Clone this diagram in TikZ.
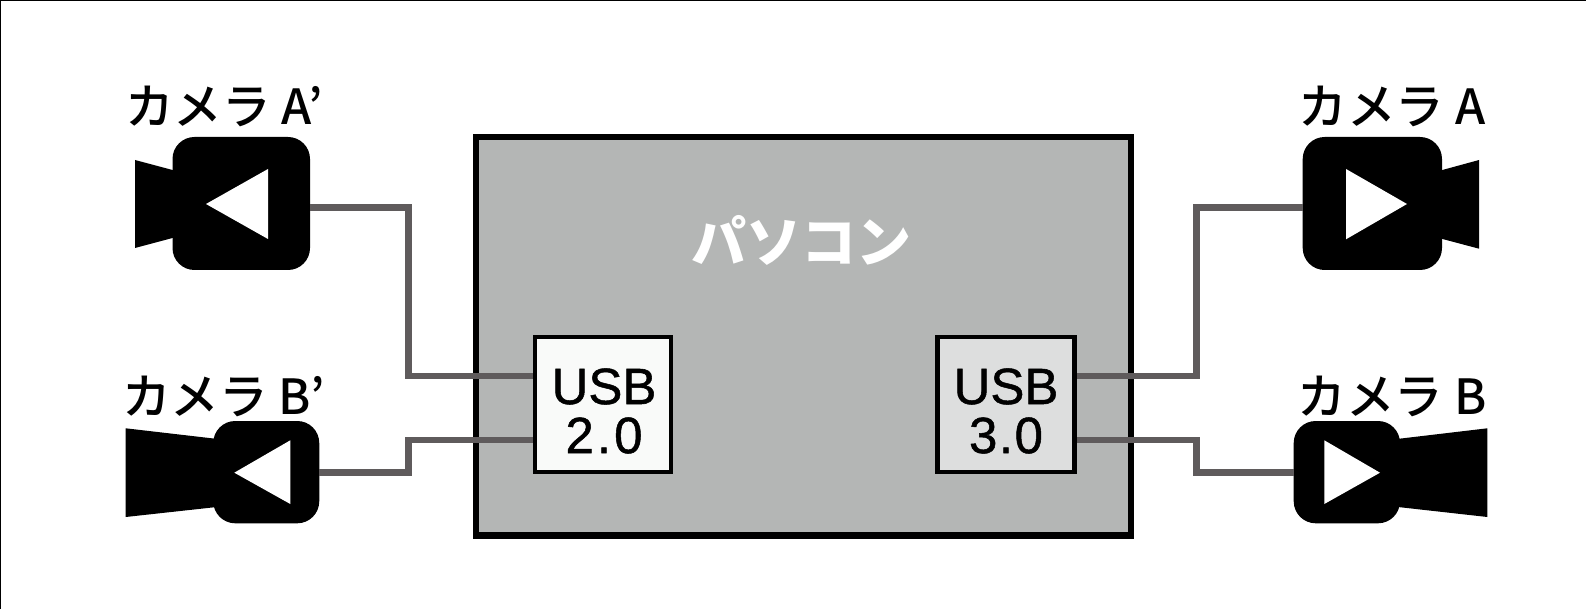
\documentclass[tikz,border=0pt]{standalone}
\usepackage{fontspec}
\setmainfont{Liberation Sans}
\newfontfamily\usbfont[FakeBold=1]{Liberation Sans}
\newfontfamily\pcfont{Noto Sans CJK JP Black}
\newfontfamily\camfont{Noto Sans CJK JP Medium}
\definecolor{pcgray}{HTML}{B4B6B5}
\definecolor{wiregray}{HTML}{5F5B5C}
\tikzset{
	pcbox/.style={rectangle, draw, fill=pcgray, line width=6.5pt, minimum width=655pt, minimum height=398.5pt, inner sep=0pt},
	usbbox/.style={rectangle, draw, line width=4.5pt, minimum height=135pt, inner sep=0pt},
	usbtext/.style={inner sep=0pt, align=center, font=\fontsize{51}{49}\usbfont},
	cambody/.style={rectangle, rounded corners=22pt, fill=black, minimum height=133pt, inner sep=0pt},
	camlabel/.style={inner sep=0pt, font=\fontsize{48.5}{48.5}\camfont},
	wire/.style={draw=wiregray, line width=6.8pt},
	lens/.style={fill=black},
	play/.style={fill=white},
}
\begin{document}
\begin{tikzpicture}[x=1pt,y=-1pt]
	\useasboundingbox (0,0) rectangle (1586,609);
	\draw[line width=1.6pt] (0,609) -- (0,0) -- (1586,0);

	\node (pc)			at (803.5,336.25) [pcbox] {};
	\node (pclabel)		at (801,240) [inner sep=0pt, text=white, font=\fontsize{55}{55}\pcfont] {パソコン};
	\node (usb20)		at (603,404.5) [usbbox, fill=white!75!pcgray!30!white, minimum width=136pt] {};
	\node (usb30)		at (1006,404.5) [usbbox, fill=white!55!pcgray, minimum width=137pt] {};
	\node (usb20text)	at (604,411) [usbtext] {USB\\{\addfontfeature{LetterSpace=6}2.0}};
	\node (usb30text)	at (1006,411) [usbtext] {USB\\{\addfontfeature{LetterSpace=3}3.0}};

	\node (camAp)		at (241.25,203.5) [cambody, minimum width=137.5pt] {};
	\node (camBp)		at (266.25,472.15) [cambody, minimum width=106pt, minimum height=102.3pt] {};
	\node (camA)		at (1372.35,203.5) [cambody, minimum width=139.3pt] {};
	\node (camB)		at (1346.85,472.15) [cambody, minimum width=106.3pt, minimum height=102.3pt] {};

	\node (labelAp)		at (224,106) [camlabel] {カメラ A’};
	\node (labelBp)		at (223.5,396) [camlabel] {カメラ B’};
	\node (labelA)		at (1392,106) [camlabel] {カメラ A};
	\node (labelB)		at (1392,396) [camlabel] {カメラ B};

	\fill[lens] (135,160) -- (180,172) -- (180,236) -- (135,248) -- cycle;
	\fill[lens] (125.7,428.3) -- (235,441) -- (235,505) -- (125.7,517) -- cycle;
	\fill[lens] (1479,160) -- (1435,172) -- (1435,237) -- (1479,248.7) -- cycle;
	\fill[lens] (1487.3,428.3) -- (1380,441) -- (1380,505) -- (1487.3,517) -- cycle;

	\fill[play] (206,204) -- (268,169) -- (268,239) -- cycle;
	\fill[play] (234.3,472.7) -- (290.3,440.3) -- (290.3,504) -- cycle;
	\fill[play] (1407,204) -- (1346,169) -- (1346,239.3) -- cycle;
	\fill[play] (1380,472.7) -- (1324.3,440.3) -- (1324.3,504) -- cycle;

	\draw[wire] ([yshift=-4pt]camAp.east) -- ++(98,0) |- ([yshift=28.5pt]usb20.west);
	\draw[wire] (camBp.east) -- ++(88.7,0) |- ([yshift=-35.5pt]usb20.west);
	\draw[wire] ([yshift=-4pt]camA.west) -- ++(-106,0) |- ([yshift=28.5pt]usb30.east);
	\draw[wire] (camB.west) -- ++(-97,0) |- ([yshift=-35.5pt]usb30.east);
\end{tikzpicture}
\end{document}
